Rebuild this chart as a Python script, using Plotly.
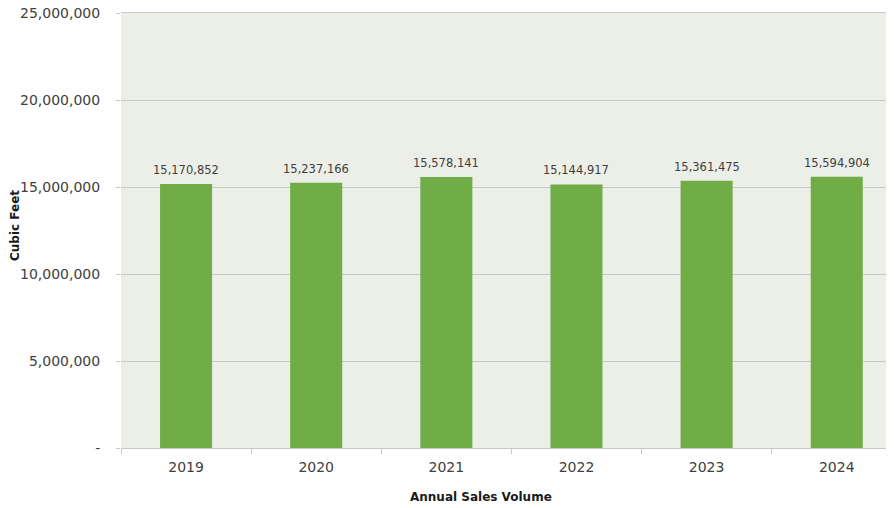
import plotly.graph_objects as go

years = ["2019", "2020", "2021", "2022", "2023", "2024"]
volumes = [15170852, 15237166, 15578141, 15144917, 15361475, 15594904]
y_tickvals = [0, 5000000, 10000000, 15000000, 20000000, 25000000]
y_ticktext = ["-", "5,000,000", "10,000,000", "15,000,000", "20,000,000", "25,000,000"]

FONT = "DejaVu Sans, sans-serif"
TXT = "#404040"

fig = go.Figure()
fig.add_trace(go.Bar(
    x=years, y=volumes,
    marker=dict(color="#70AD47", line=dict(width=0)),
    cliponaxis=False,
))

# value labels placed on the category index of each bar
labels = [
    dict(text=f"{v:,}", x=i, y=v, xref="x", yref="y", xanchor="center", yanchor="bottom",
         yshift=5, showarrow=False, font=dict(family=FONT, size=11.5, color=TXT))
    for i, v in enumerate(volumes)
]

fig.update_layout(
    width=886, height=500,
    margin=dict(l=113, r=0, t=5, b=60),
    paper_bgcolor="white",
    plot_bgcolor="#EBEFE8",
    bargap=0.6,
    showlegend=False,
    font=dict(family=FONT, color=TXT),
    annotations=labels + [
        dict(text="<b>Annual Sales Volume</b>", xref="paper", yref="paper",
             x=(481 - 121) / (894 - 121), y=0, xanchor="center", yanchor="middle",
             yshift=-49, showarrow=False, font=dict(family=FONT, size=12, color="#1a1a1a")),
        dict(text="<b>Cubic Feet</b>", xref="paper", yref="paper",
             x=0, y=(448 - 226) / (448 - 13), xanchor="center", yanchor="middle",
             xshift=-(121 - 15), textangle=-90, showarrow=False, borderpad=0,
             font=dict(family=FONT, size=12, color="#1a1a1a")),
    ],
)
fig.update_xaxes(
    type="category",
    range=[-0.5, 5.44],
    showline=True, mirror=True, linecolor="#C8C8C8", linewidth=1,
    ticks="outside", tickson="boundaries", ticklen=5, tickcolor="#C8C8C8",
    tickfont=dict(family=FONT, size=14, color=TXT),
    ticklabelstandoff=6,
    automargin=False,
)
fig.update_yaxes(
    range=[0, 25000000],
    tickvals=y_tickvals, ticktext=y_ticktext,
    showgrid=True, gridcolor="#C8C8C8", gridwidth=1,
    zeroline=False,
    ticks="outside", ticklen=4, tickcolor="#C8C8C8",
    tickfont=dict(family=FONT, size=14, color=TXT),
    ticklabelstandoff=13,
    ticklabeloverflow="allow",
    automargin=False,
)

fig.write_html("out.html")
